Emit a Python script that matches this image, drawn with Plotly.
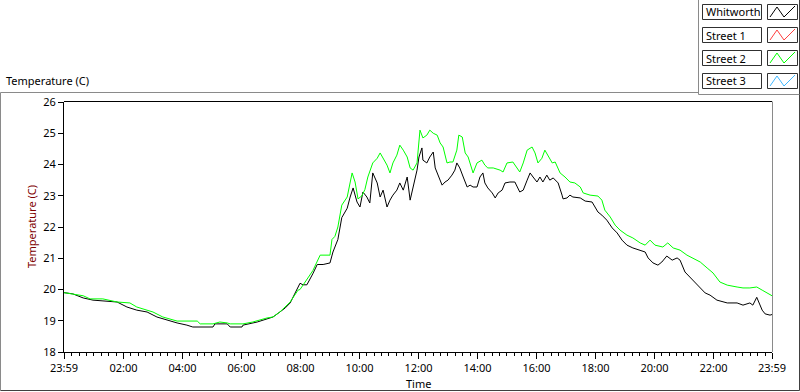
import plotly.graph_objects as go
import pandas as pd

# ---------------- data ----------------
WHITWORTH_TIME = [
    "23:59", "00:17", "00:38", "00:58", "01:47", "02:07", "02:27", "02:48", "03:08", "03:28",
    "03:49", "04:09", "04:21", "05:02", "05:06", "05:31", "05:37", "06:01", "06:03", "06:32",
    "06:52", "07:04", "07:18", "07:29", "07:39", "07:45", "07:53", "07:59", "08:05", "08:13",
    "08:25", "08:34", "08:46", "09:00", "09:06", "09:16", "09:24", "09:35", "09:41", "09:47",
    "09:55", "10:01", "10:07", "10:15", "10:21", "10:27", "10:36", "10:42", "10:48", "10:56",
    "11:02", "11:08", "11:16", "11:22", "11:29", "11:37", "11:43", "11:49", "11:57", "12:01",
    "12:07", "12:09", "12:17", "12:23", "12:30", "12:34", "12:40", "12:48", "12:54", "13:00",
    "13:08", "13:14", "13:18", "13:24", "13:31", "13:39", "13:45", "13:51", "13:59", "14:05",
    "14:11", "14:15", "14:21", "14:30", "14:36", "14:42", "14:50", "14:56", "15:06", "15:16",
    "15:26", "15:33", "15:41", "15:47", "15:53", "16:01", "16:07", "16:13", "16:21", "16:27",
    "16:34", "16:44", "16:52", "16:54", "17:02", "17:08", "17:14", "17:29", "17:39", "17:53",
    "17:59", "18:05", "18:13", "18:23", "18:34", "18:44", "18:54", "19:04", "19:16", "19:31",
    "19:41", "19:47", "19:57", "20:07", "20:15", "20:25", "20:36", "20:46", "20:52", "21:02",
    "21:12", "21:22", "21:33", "21:43", "21:53", "22:07", "22:28", "22:48", "23:00", "23:14",
    "23:20", "23:28", "23:39", "23:45", "23:55", "23:59",
]
WHITWORTH_TEMP = [
    19.90, 19.86, 19.73, 19.66, 19.60, 19.44, 19.34, 19.28, 19.12, 19.02,
    18.93, 18.86, 18.80, 18.80, 18.90, 18.90, 18.80, 18.80, 18.86, 18.96,
    19.06, 19.12, 19.28, 19.41, 19.57, 19.75, 19.98, 20.20, 20.15, 20.15,
    20.50, 20.80, 20.80, 20.85, 21.20, 21.60, 22.30, 22.60, 22.96, 23.25,
    22.80, 22.64, 23.12, 22.96, 22.77, 23.73, 23.41, 22.96, 23.18, 22.64,
    22.86, 23.02, 23.18, 23.41, 23.18, 23.60, 22.86, 23.28, 23.82, 24.24,
    24.53, 24.14, 24.05, 24.24, 24.40, 23.89, 23.66, 23.34, 23.44, 23.50,
    23.66, 23.82, 24.05, 23.89, 23.60, 23.28, 23.34, 23.28, 23.28, 23.60,
    23.73, 23.41, 23.25, 23.09, 22.93, 23.09, 23.18, 23.41, 23.44, 23.44,
    23.12, 23.18, 23.50, 23.73, 23.60, 23.44, 23.60, 23.44, 23.66, 23.50,
    23.57, 23.41, 23.02, 22.90, 22.93, 23.02, 22.96, 22.93, 22.83, 22.80,
    22.64, 22.48, 22.38, 22.22, 21.97, 21.81, 21.58, 21.42, 21.33, 21.26,
    21.20, 21.01, 20.85, 20.78, 20.88, 21.07, 20.94, 21.01, 20.94, 20.56,
    20.40, 20.21, 20.05, 19.89, 19.82, 19.66, 19.57, 19.57, 19.50, 19.57,
    19.50, 19.75, 19.34, 19.22, 19.18, 19.20,
]

STREET2_TIME = [
    "23:59", "00:38", "00:52", "01:18", "01:47", "02:13", "02:27", "03:00", "03:20", "03:49",
    "04:30", "04:36", "05:02", "05:16", "05:31", "05:37", "06:03", "06:23", "06:52", "07:04",
    "07:18", "07:39", "07:55", "07:59", "08:25", "08:40", "09:00", "09:04", "09:10", "09:16",
    "09:24", "09:35", "09:45", "09:51", "09:57", "10:05", "10:11", "10:17", "10:27", "10:36",
    "10:42", "10:48", "10:56", "11:02", "11:08", "11:16", "11:22", "11:29", "11:37", "11:43",
    "11:49", "11:57", "12:03", "12:09", "12:17", "12:23", "12:30", "12:38", "12:44", "12:50",
    "12:58", "13:04", "13:10", "13:18", "13:22", "13:29", "13:35", "13:41", "13:49", "13:51",
    "13:59", "14:09", "14:15", "14:21", "14:32", "14:46", "14:52", "15:00", "15:12", "15:26",
    "15:33", "15:41", "15:51", "15:57", "16:03", "16:11", "16:17", "16:23", "16:32", "16:38",
    "16:48", "16:58", "17:08", "17:18", "17:29", "17:35", "17:49", "18:05", "18:13", "18:19",
    "18:30", "18:40", "18:50", "19:04", "19:16", "19:31", "19:41", "19:51", "20:01", "20:17",
    "20:27", "20:38", "20:52", "21:06", "21:18", "21:33", "21:47", "21:59", "22:13", "22:28",
    "22:48", "23:00", "23:14", "23:28", "23:39", "23:49", "23:59",
]
STREET2_TEMP = [
    19.90, 19.80, 19.70, 19.70, 19.60, 19.57, 19.44, 19.28, 19.12, 18.99,
    18.99, 18.90, 18.90, 18.96, 18.93, 18.90, 18.90, 18.96, 19.09, 19.12,
    19.28, 19.60, 19.98, 20.00, 20.60, 21.10, 21.10, 21.60, 21.70, 22.00,
    22.70, 22.96, 23.73, 23.44, 22.90, 23.00, 23.20, 23.60, 24.05, 24.20,
    24.37, 24.20, 23.98, 23.73, 24.05, 24.30, 24.62, 24.46, 24.24, 23.89,
    23.82, 24.05, 25.10, 24.85, 24.94, 25.10, 25.00, 24.94, 24.69, 24.56,
    24.05, 24.08, 24.08, 24.46, 24.94, 24.88, 24.37, 24.24, 23.82, 23.73,
    24.05, 24.14, 23.98, 23.89, 23.89, 23.82, 23.76, 24.05, 24.08, 23.76,
    24.05, 24.46, 24.56, 24.37, 24.05, 24.20, 24.46, 24.30, 24.05, 24.08,
    23.73, 23.60, 23.44, 23.41, 23.28, 23.09, 23.02, 22.99, 22.86, 22.54,
    22.32, 22.06, 21.90, 21.74, 21.65, 21.49, 21.42, 21.58, 21.42, 21.36,
    21.49, 21.33, 21.26, 21.10, 21.01, 20.88, 20.69, 20.53, 20.24, 20.14,
    20.08, 20.05, 20.05, 20.08, 19.98, 19.89, 19.80,
]

STREET1_TIME, STREET1_TEMP = [], []
STREET3_TIME, STREET3_TEMP = [], []

SERIES_NAMES = ["Whitworth", "Street 1", "Street 2", "Street 3"]
SERIES_COLORS = ["#000000", "#ff4040", "#00ff00", "#40b8ff"]

X_TICK_LABELS = ["23:59", "02:00", "04:00", "06:00", "08:00", "10:00", "12:00",
                 "14:00", "16:00", "18:00", "20:00", "22:00", "23:59"]
MINOR_TICK_MINUTES = 15
Y_TICKS = [18, 19, 20, 21, 22, 23, 24, 25, 26]

CHART_TITLE = "Temperature (C)"
Y_TITLE = "Temperature (C)"
X_TITLE = "Time"


def to_datetimes(times):
    base = pd.Timestamp("2021-01-01")
    out, day, prev = [], 0, None
    for t in times:
        h, m = map(int, t.split(":"))
        mins = h * 60 + m
        if prev is not None and mins < prev:
            day += 1
        prev = mins
        out.append(base + pd.Timedelta(days=day, minutes=mins))
    return out


# ---------------- layout geometry ----------------
W, H = 800, 392
L, R, T, B = 64, 28, 102, 40
PW, PH = W - L - R, H - T - B


def px(x):
    return (x - L) / PW


def py(y):
    return (H - B - y) / PH


FONT = "Noto Sans, Liberation Sans, sans-serif"

fig = go.Figure()
series = [
    (WHITWORTH_TIME, WHITWORTH_TEMP),
    (STREET1_TIME, STREET1_TEMP),
    (STREET2_TIME, STREET2_TEMP),
    (STREET3_TIME, STREET3_TEMP),
]
for (times, temps), name, color in zip(series, SERIES_NAMES, SERIES_COLORS):
    if not times:
        continue
    fig.add_trace(go.Scatter(
        x=to_datetimes(times), y=temps, mode="lines", name=name,
        line=dict(color=color, width=1), showlegend=False, hoverinfo="skip",
    ))

tick_vals = to_datetimes(X_TICK_LABELS)
minor_vals = list(pd.date_range(pd.Timestamp("2021-01-02 00:00"), tick_vals[-1],
                                freq=f"{MINOR_TICK_MINUTES}min"))

fig.update_xaxes(
    range=[tick_vals[0], tick_vals[-1]],
    tickmode="array", tickvals=tick_vals, ticktext=X_TICK_LABELS,
    ticks="outside", ticklen=6, tickcolor="#000", tickwidth=1,
    showline=True, linecolor="#000", linewidth=1,
    showgrid=False, zeroline=False,
    tickfont=dict(family=FONT, size=11, color="#000"),
    minor=dict(ticks="outside", ticklen=3, tickcolor="#000", tickwidth=1,
               tickmode="array", tickvals=minor_vals, showgrid=False),
)
fig.update_yaxes(
    range=[Y_TICKS[0], Y_TICKS[-1]],
    tickmode="array", tickvals=Y_TICKS,
    ticks="outside", ticklen=5, tickcolor="#000", tickwidth=1,
    showline=True, linecolor="#000", linewidth=1,
    showgrid=False, zeroline=False,
    tickfont=dict(family=FONT, size=11, color="#000"),
)

shapes = []


def line(x0, y0, x1, y1, color, width=1):
    shapes.append(dict(type="line", xref="paper", yref="paper",
                       x0=px(x0), y0=py(y0), x1=px(x1), y1=py(y1),
                       line=dict(color=color, width=width), layer="above"))


# outer frame
line(0.5, 92.5, 698.5, 92.5, "#8a8a8a")
line(0.5, 92.5, 0.5, 390.5, "#8a8a8a")
line(0.5, 390.5, 799.5, 390.5, "#404040")
line(799.5, 0, 799.5, 390.5, "#404040")
# legend panel
line(698.5, 0, 698.5, 94.5, "#8a8a8a")
line(698.5, 94.5, 799.5, 94.5, "#8a8a8a")
# plot area top / right
line(64, 101.5, 772, 101.5, "#000")
line(772.5, 101.5, 772.5, 352, "#8a8a8a")

annotations = []
row_top = [4, 27, 50, 73]
for name, color, top in zip(SERIES_NAMES, SERIES_COLORS, row_top):
    bot = top + 15
    shapes.append(dict(type="rect", xref="paper", yref="paper",
                       x0=px(702.5), x1=px(761.5), y0=py(top + 0.5), y1=py(bot + 0.5),
                       line=dict(color="#303030", width=1), fillcolor="white"))
    shapes.append(dict(type="rect", xref="paper", yref="paper",
                       x0=px(767.5), x1=px(797.5), y0=py(top + 0.5), y1=py(bot + 0.5),
                       line=dict(color="#303030", width=1), fillcolor="white"))
    pts = [(770, bot - 2), (777, top + 3), (784, bot - 2), (795, top + 2)]
    path = "M " + " L ".join(f"{px(a):.5f},{py(b):.5f}" for a, b in pts)
    shapes.append(dict(type="path", xref="paper", yref="paper", path=path,
                       line=dict(color=color, width=1)))
    annotations.append(dict(text=name, xref="paper", yref="paper",
                            x=px(704), y=py(top + 8), xanchor="left", yanchor="middle",
                            showarrow=False, font=dict(family=FONT, size=11, color="#000")))

annotations.append(dict(text=CHART_TITLE, xref="paper", yref="paper",
                        x=px(4), y=py(81), xanchor="left", yanchor="middle",
                        showarrow=False, font=dict(family=FONT, size=11, color="#000")))
annotations.append(dict(text=Y_TITLE, xref="paper", yref="paper", textangle=-90,
                        x=px(31), y=py(227), xanchor="center", yanchor="middle",
                        showarrow=False, font=dict(family=FONT, size=11, color="#800000")))
annotations.append(dict(text=X_TITLE, xref="paper", yref="paper",
                        x=px(418), y=py(383), xanchor="center", yanchor="middle",
                        showarrow=False, font=dict(family=FONT, size=11, color="#000")))

fig.update_layout(
    width=W, height=H, autosize=False,
    margin=dict(l=L, r=R, t=T, b=B, pad=0),
    paper_bgcolor="white", plot_bgcolor="white",
    showlegend=False, shapes=shapes, annotations=annotations,
    hovermode=False,
)

fig.write_html("out.html", config={"displayModeBar": False, "staticPlot": True},
               post_script="document.body.style.margin='0';document.body.style.overflow='hidden';")
